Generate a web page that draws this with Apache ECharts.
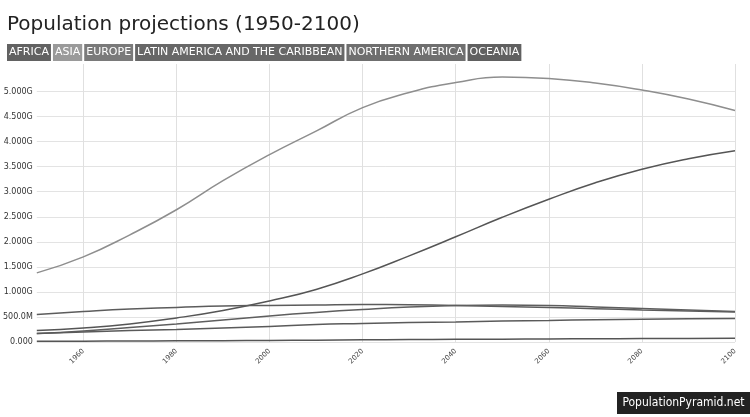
<!DOCTYPE html>
<html>
<head>
<meta charset="utf-8">
<script src="https://cdn.jsdelivr.net/npm/echarts@6/dist/echarts.min.js"></script>
<style>
html, body { margin: 0; padding: 0; background: #fff; }
#main { width: 750px; height: 417px; }
</style>
</head>
<body>
<div id="main"></div>
<script>
// years (decades) and population per region
var years = [1950, 1960, 1970, 1980, 1990, 2000, 2010, 2020, 2030, 2040, 2050, 2060, 2070, 2080, 2090, 2100];
var regions = ['AFRICA', 'ASIA', 'EUROPE', 'LATIN AMERICA AND THE CARIBBEAN', 'NORTHERN AMERICA', 'OCEANIA'];
var africa = [0.23, 0.28, 0.36, 0.48, 0.63, 0.82, 1.05, 1.36, 1.72, 2.10, 2.49, 2.85, 3.18, 3.45, 3.66, 3.82];
var asia = [1.38, 1.70, 2.14, 2.64, 3.22, 3.74, 4.21, 4.68, 4.98, 5.18, 5.29, 5.26, 5.17, 5.03, 4.85, 4.62];
var europe = [0.55, 0.61, 0.66, 0.69, 0.72, 0.73, 0.74, 0.75, 0.745, 0.73, 0.71, 0.69, 0.665, 0.64, 0.62, 0.60];
var latam = [0.17, 0.22, 0.29, 0.36, 0.44, 0.52, 0.59, 0.65, 0.70, 0.73, 0.74, 0.73, 0.70, 0.67, 0.64, 0.61];
var namerica = [0.17, 0.20, 0.23, 0.25, 0.28, 0.31, 0.35, 0.37, 0.39, 0.40, 0.42, 0.43, 0.445, 0.455, 0.462, 0.47];
var oceania = [0.013, 0.016, 0.020, 0.023, 0.027, 0.031, 0.037, 0.043, 0.048, 0.053, 0.057, 0.061, 0.065, 0.069, 0.072, 0.075];
var xTicks = [1960, 1980, 2000, 2020, 2040, 2060, 2080, 2100];
var yTicks = [0, 0.5e9, 1e9, 1.5e9, 2e9, 2.5e9, 3e9, 3.5e9, 4e9, 4.5e9, 5e9];

var lineColors = ['#555555', '#8e8e8e', '#5c5c5c', '#5e5e5e', '#5a5a5a', '#555555'];
var legendBg = ['#626262', '#9a9a9a', '#7a7a7a', '#676767', '#6f6f6f', '#606060'];
var values = [africa, asia, europe, latam, namerica, oceania];

function fmt(v) {
    if (v === 0) return '0.000';
    if (v >= 1e9) return (v / 1e9).toFixed(3) + 'G';
    return (v / 1e6).toFixed(1) + 'M';
}
function toPairs(arr) {
    return arr.map(function (v, i) { return [years[i], v * 1e9]; });
}

var chart = echarts.init(document.getElementById('main'));
chart.setOption({
    animation: false,
    color: lineColors,
    title: {
        text: 'Population projections (1950-2100)',
        left: 2,
        top: 10,
        textStyle: { fontFamily: 'DejaVu Sans', fontSize: 20, fontWeight: 'normal', color: '#222' }
    },
    legend: {
        left: 2,
        top: 44,
        padding: 0,
        icon: 'none',
        itemWidth: 0,
        itemHeight: 0,
        itemGap: -3,
        selectedMode: false,
        data: regions.map(function (r, i) {
            return { name: r, textStyle: { backgroundColor: legendBg[i] } };
        }),
        textStyle: {
            fontFamily: 'DejaVu Sans',
            fontSize: 11,
            color: '#fff',
            padding: [3, 2, 3, 2]
        }
    },
    grid: { left: 34, right: 15, top: 64, bottom: 75 },
    xAxis: {
        type: 'value',
        min: 1950,
        max: 2100,
        axisLine: { show: false },
        axisTick: { show: false, customValues: xTicks },
        axisLabel: {
            customValues: xTicks,
            formatter: function (v) { return String(v); },
            rotate: 45,
            fontSize: 7,
            color: '#444',
            fontFamily: 'DejaVu Sans',
            margin: 8
        },
        splitLine: { show: true, lineStyle: { color: '#e0e0e0', width: 1 } }
    },
    yAxis: {
        type: 'value',
        min: 0,
        max: 5.55e9,
        axisLine: { show: false },
        axisTick: { show: false, customValues: yTicks },
        axisLabel: {
            customValues: yTicks,
            formatter: fmt,
            fontSize: 8,
            color: '#333',
            fontFamily: 'DejaVu Sans',
            margin: 4
        },
        splitLine: { lineStyle: { color: '#e3e3e3', width: 1 } }
    },
    series: regions.map(function (r, i) {
        return {
            name: r,
            type: 'line',
            smooth: 0.5,
            showSymbol: false,
            lineStyle: { width: 1.5, color: lineColors[i] },
            data: toPairs(values[i])
        };
    }),
    graphic: [{
        type: 'group',
        right: 0,
        bottom: 3,
        children: [{
            type: 'rect',
            shape: { x: 0, y: 0, width: 133, height: 22 },
            style: { fill: '#222' }
        }, {
            type: 'text',
            x: 66.5,
            y: 11,
            style: {
                text: 'PopulationPyramid.net',
                fill: '#fff',
                font: '12px "DejaVu Sans Condensed", "Liberation Sans Narrow", sans-serif',
                textAlign: 'center',
                textVerticalAlign: 'middle'
            }
        }]
    }]
});
</script>
</body>
</html>
